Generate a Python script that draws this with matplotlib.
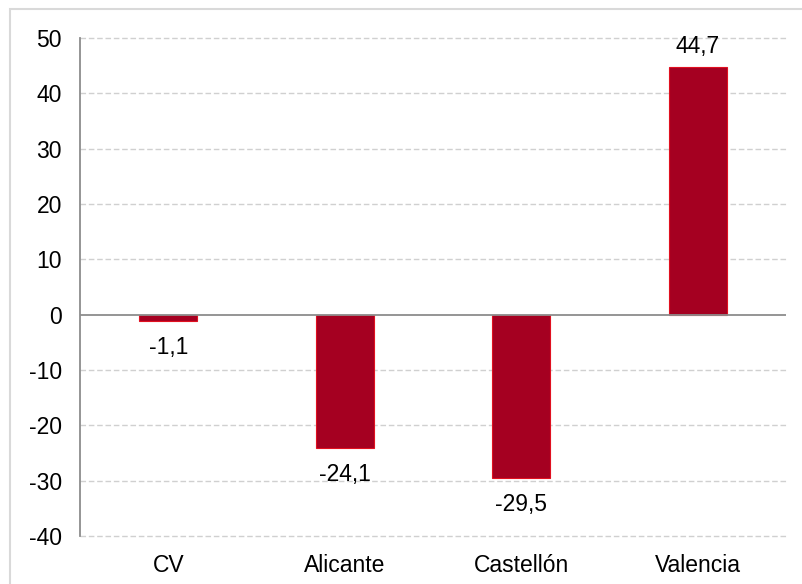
import matplotlib.pyplot as plt
from matplotlib.patches import Rectangle

categories = ["CV", "Alicante", "Castellón", "Valencia"]
values = [-1.1, -24.1, -29.5, 44.7]
labels = ["-1,1", "-24,1", "-29,5", "44,7"]
yticks = [-40, -30, -20, -10, 0, 10, 20, 30, 40, 50]

plt.rcParams['font.family'] = ['Liberation Sans', 'DejaVu Sans']

fig = plt.figure(figsize=(8.02, 5.84), dpi=100)
# outer chart border (cut at right/bottom like the reference)
fig.patches.append(Rectangle((9.5 / 802, -0.1), 1.2, 1.1 - 9.5 / 584,
                             transform=fig.transFigure, fill=False,
                             edgecolor='#d9d9d9', linewidth=1.5))
ax = fig.add_axes([80 / 802, 48 / 584, 706 / 802, 498 / 584])

x = range(len(categories))
ax.bar(x, values, width=0.33, color='#a50021', edgecolor='#e01020', linewidth=0.8, zorder=3)
ax.axhline(0, color='#8c8c8c', linewidth=1.3, zorder=4)

# dashed gridlines (drawn unclipped so the -40 line shows)
for t in yticks:
    if t != 0:
        ax.axhline(t, linestyle=(0, (4, 2)), color='#d0d0d0', linewidth=1,
                   zorder=1, clip_on=False)

for xi, v, lab in zip(x, values, labels):
    if v >= 0:
        ax.annotate(lab, (xi, v), xytext=(0, 15), textcoords='offset points',
                    ha='center', va='center', fontsize=16.5)
    else:
        ax.annotate(lab, (xi, v), xytext=(0, -19), textcoords='offset points',
                    ha='center', va='center', fontsize=16.5)

ax.set_xlim(-0.5, 3.5)
ax.set_ylim(-40, 50)
ax.set_yticks(yticks)
ax.set_yticklabels([str(t) for t in yticks])
ax.set_xticks(list(x))
ax.set_xticklabels(categories)
ax.tick_params(length=0, labelsize=16.5)
ax.tick_params(axis='y', pad=13)
ax.tick_params(axis='x', pad=13)
for s in ['top', 'right', 'bottom']:
    ax.spines[s].set_visible(False)
ax.spines['left'].set_color('#8c8c8c')
ax.spines['left'].set_linewidth(1.3)

fig.savefig('out.png', dpi=100)
